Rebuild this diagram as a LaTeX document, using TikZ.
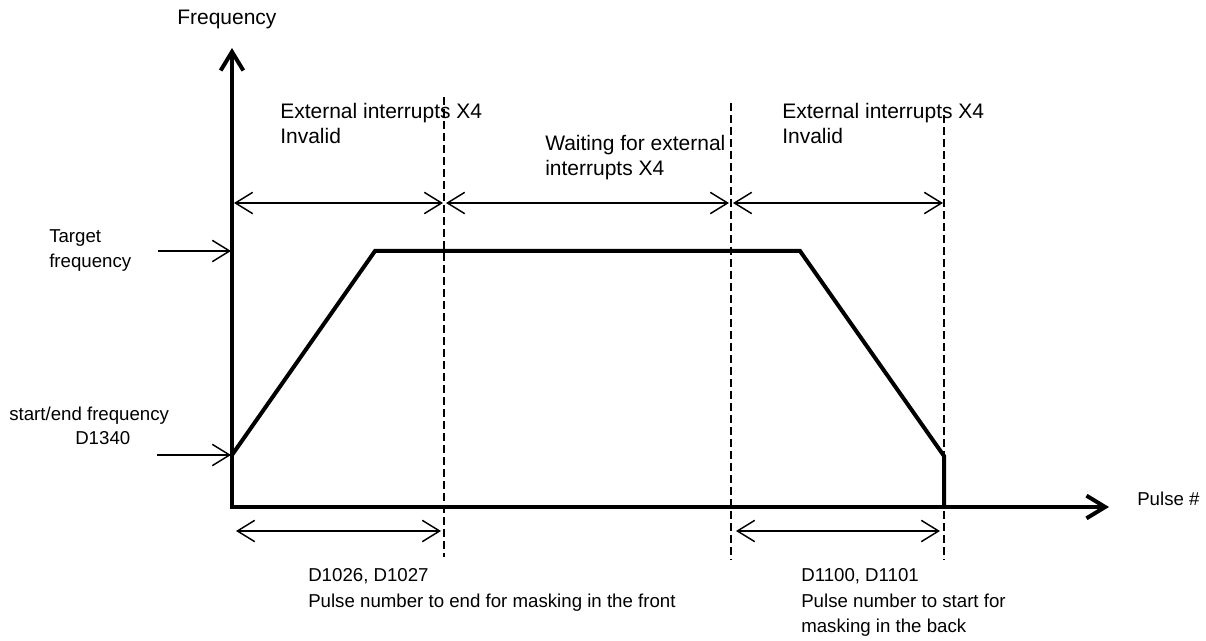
\documentclass[tikz,border=0pt]{standalone}
\usepackage{fontspec}
\setmainfont{Liberation Sans}
\usetikzlibrary{arrows.meta}
\begin{document}
\begin{tikzpicture}[x=0.75pt,y=-0.75pt,
  bigtxt/.style={font=\fontsize{15.75}{18.75}\selectfont, inner sep=0pt, align=left, anchor=north west},
  smalltxt/.style={font=\fontsize{14}{18.5}\selectfont, inner sep=0pt, align=left, anchor=north west},
  axisline/.style={line width=3pt, -{Straight Barb[length=14pt,width=17pt]}},
  profile/.style={line width=3pt},
  guide/.style={line width=1.9pt, dash pattern=on 6pt off 3pt},
  span/.style={line width=1.1pt, {Straight Barb[length=13pt,width=16pt]}-{Straight Barb[length=13pt,width=16pt]}},
  pointer/.style={line width=1.1pt, -{Straight Barb[length=13pt,width=16pt]}}
]
\useasboundingbox (0,0) rectangle (1206,641);

% axes
\coordinate (origin) at (232,507);
\coordinate (ytop) at (232,48);
\coordinate (ybot) at (232,509);
\coordinate (xleft) at (230,507);
\coordinate (xright) at (1109,507);
\draw[axisline] (ybot) -- (ytop);
\draw[axisline] (xleft) -- (xright);

% frequency profile
\coordinate (p0) at (232,455);
\coordinate (p1) at (375,251);
\coordinate (p2) at (800,251);
\coordinate (p3) at (944,456);
\coordinate (p4) at (944,507);
\draw[profile] (p0) -- (p1) -- (p2) -- (p3) -- (p4);

% dashed guides
\coordinate (g1t) at (444,97);
\coordinate (g1b) at (444,557);
\coordinate (g2t) at (731,103);
\coordinate (g2b) at (731,560);
\coordinate (g3t) at (944,115);
\coordinate (g3b) at (944,560);
\draw[guide] (g1t) -- (g1b);
\draw[guide] (g2t) -- (g2b);
\draw[guide] (g3t) -- (g3b);

% top spans
\coordinate (a1l) at (234,203);
\coordinate (a1r) at (443,203);
\coordinate (a2l) at (446,203);
\coordinate (a2r) at (729,203);
\coordinate (a3l) at (733,203);
\coordinate (a3r) at (943,203);
\draw[span] (a1l) -- (a1r);
\draw[span] (a2l) -- (a2r);
\draw[span] (a3l) -- (a3r);

% bottom spans
\coordinate (b1l) at (236,531);
\coordinate (b1r) at (441,531);
\coordinate (b2l) at (736,531);
\coordinate (b2r) at (940,531);
\draw[span] (b1l) -- (b1r);
\draw[span] (b2l) -- (b2r);

% pointers to the frequency axis
\coordinate (t0) at (158,251);
\coordinate (t1) at (231,251);
\coordinate (s0) at (157,455);
\coordinate (s1) at (231,455);
\draw[pointer] (t0) -- (t1);
\draw[pointer] (s0) -- (s1);

% labels
\node[bigtxt] (freq) at (177,10) {Frequency};
\node[smalltxt] (pulse) at (1137,491.5) {Pulse \#};
\node[bigtxt] (inv1) at (280,103) {External interrupts X4\\Invalid};
\node[bigtxt] (wait) at (545,135) {Waiting for external\\interrupts X4};
\node[bigtxt] (inv2) at (782,103) {External interrupts X4\\Invalid};
\node[smalltxt] (target) at (49,229.5) {Target\\frequency};
\node[smalltxt] (startf) at (9,406.5) {start/end frequency};
\node[smalltxt] (dreg) at (75,431.5) {D1340};
\node[smalltxt, font=\fontsize{14}{19.5}\selectfont] (front) at (308,568.5) {D1026, D1027\\Pulse number to end for masking in the front};
\node[smalltxt, font=\fontsize{14}{19}\selectfont] (back) at (801,568.5) {D1100, D1101\\Pulse number to start for\\masking in the back};
\end{tikzpicture}
\end{document}
